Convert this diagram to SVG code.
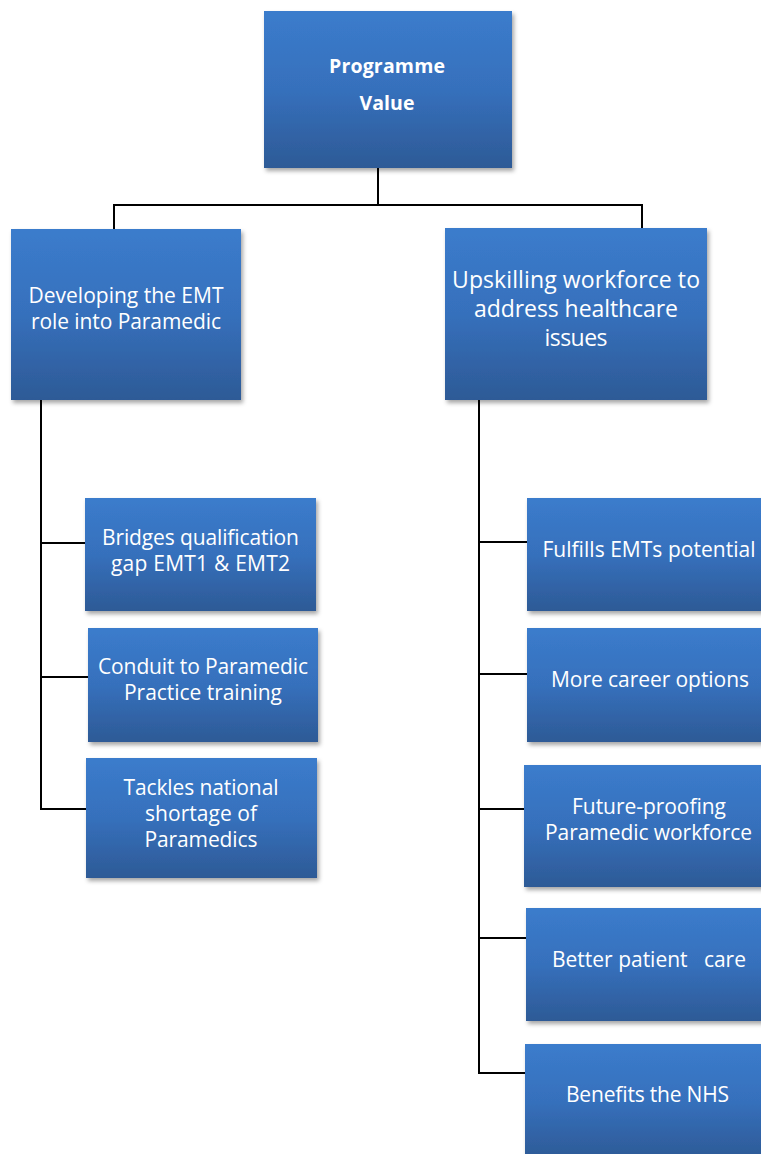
<svg xmlns="http://www.w3.org/2000/svg" width="761" height="1154" viewBox="0 0 761 1154">
<defs>
<linearGradient id="g" x1="0" y1="0" x2="0" y2="1">
<stop offset="0" stop-color="#3b7ccc"/>
<stop offset="0.5" stop-color="#3670bc"/>
<stop offset="1" stop-color="#2d5a96"/>
</linearGradient>
<filter id="sh" x="-10%" y="-10%" width="130%" height="130%">
<feDropShadow dx="2" dy="3" stdDeviation="2" flood-color="#000" flood-opacity="0.35"/>
</filter>
<style>
.box{fill:url(#g);filter:url(#sh);}
.t{font-family:"Open Sans","Noto Sans",sans-serif;font-size:21px;fill:#ffffff;text-anchor:middle;white-space:pre;}
.b{font-weight:bold;font-size:19.5px;}
.l{font-size:23px;}
.c{stroke:#000;stroke-width:2;fill:none;}
</style>
</defs>
<rect width="761" height="1154" fill="#ffffff"/>
<g id="connectors">
<path class="c" d="M378 168V205M114 229V205H642V228"/>
<path class="c" d="M41 400V809H86M41 543H85M41 677H88"/>
<path class="c" d="M479 400V1073H525M479 542H527M479 674H527M479 809H524M479 938H526"/>
</g>
<g id="root">
<rect class="box" x="264" y="11" width="248" height="157"/>
<text class="t b" x="387" y="73" textLength="116">Programme</text>
<text class="t b" x="387" y="110" textLength="55">Value</text>
</g>
<g id="developing">
<rect class="box" x="11" y="229" width="230" height="171"/>
<text class="t" x="126" y="303" textLength="195">Developing the EMT</text>
<text class="t" x="126" y="329" textLength="190">role into Paramedic</text>
</g>
<g id="upskilling">
<rect class="box" x="445" y="228" width="262" height="172"/>
<text class="t l" x="576" y="288" textLength="248">Upskilling workforce to</text>
<text class="t l" x="576" y="317" textLength="204">address healthcare</text>
<text class="t l" x="576" y="346" textLength="63">issues</text>
</g>
<g id="bridges">
<rect class="box" x="85" y="498" width="231" height="113"/>
<text class="t" x="200.5" y="545" textLength="197">Bridges qualification</text>
<text class="t" x="200.5" y="571" textLength="179">gap EMT1 &amp; EMT2</text>
</g>
<g id="conduit">
<rect class="box" x="88" y="628" width="230" height="114"/>
<text class="t" x="203" y="674" textLength="210">Conduit to Paramedic</text>
<text class="t" x="203" y="700" textLength="158">Practice training</text>
</g>
<g id="tackles">
<rect class="box" x="86" y="758" width="231" height="120"/>
<text class="t" x="201" y="795" textLength="155">Tackles national</text>
<text class="t" x="201" y="821" textLength="112">shortage of</text>
<text class="t" x="201" y="847" textLength="113">Paramedics</text>
</g>
<g id="fulfills">
<rect class="box" x="527" y="498" width="240" height="113"/>
<text class="t" x="649" y="557" textLength="213">Fulfills EMTs potential</text>
</g>
<g id="career">
<rect class="box" x="527" y="628" width="240" height="114"/>
<text class="t" x="650" y="687" textLength="198">More career options</text>
</g>
<g id="future">
<rect class="box" x="524" y="765" width="243" height="122"/>
<text class="t" x="649" y="814" textLength="154">Future-proofing</text>
<text class="t" x="648.5" y="840" textLength="207">Paramedic workforce</text>
</g>
<g id="patient">
<rect class="box" x="526" y="908" width="241" height="113"/>
<text class="t" x="649" y="967" textLength="194">Better patient   care</text>
</g>
<g id="nhs">
<rect class="box" x="525" y="1044" width="242" height="115"/>
<text class="t" x="647.5" y="1102" textLength="163">Benefits the NHS</text>
</g>
</svg>
